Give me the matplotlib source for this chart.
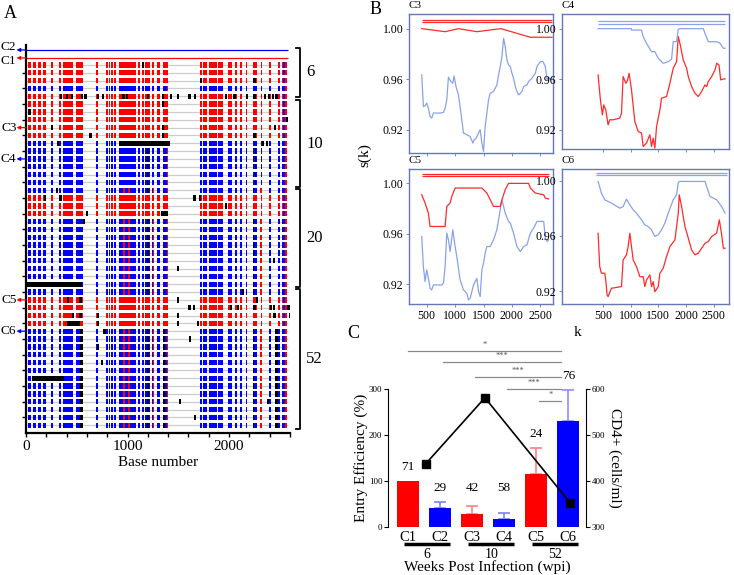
import numpy as np
import matplotlib.pyplot as plt

plt.rcParams['font.family'] = ['Liberation Serif', 'DejaVu Serif']

W, H = 734, 575
fig = plt.figure(figsize=(W / 100, H / 100), dpi=100)


def add_ax(l, t, r, b):
    # axes box given in pixel coords of the figure (top-left origin)
    return fig.add_axes([l / W, 1 - b / H, (r - l) / W, (b - t) / H])


RED = '#ff0000'
BLUE = '#0000ff'

###########################
### A. highlighter data ###
###########################

# r = red (C1-like) sequence, b = blue (C2-like) sequence
row_colors = "rrrbrrrrrr" + "bbbbbbb" + "rrr" + "bbbbbbbbbb" + "rrrr" + "b" * 13
group_labels = ['6', '10', '20', '52']
group_first = [-2.2, 4.5, 15.9, 28.6]
group_last = [4.1, 15.6, 28.4, 46.5]
ref_rows = {'C2': -1.92, 'C1': -0.9}
arrow_rows = {'C3': 8, 'C4': 12, 'C5': 30, 'C6': 34}
arrow_colors = {'C1': RED, 'C2': BLUE, 'C3': RED, 'C4': BLUE, 'C5': RED, 'C6': BLUE}
# the two reference labels sit a little apart so they do not collide
label_shift = {'C2': -0.35, 'C1': 0.35}

# polymorphic columns (base start, base end)
col_start = [23, 72, 121, 171, 246, 328, 368, 493, 690, 788, 815, 842, 870, 920, 1100, 1140,
             1175, 1240, 1288, 1345, 1714, 1747, 1806, 1895, 1993, 2059, 2108, 2167, 2233, 2312,
             2397, 2486, 2525]
col_end = [46, 95, 144, 194, 263, 348, 466, 565, 706, 805, 832, 860, 890, 1080, 1118, 1160,
           1225, 1262, 1320, 1400, 1734, 1780, 1879, 1944, 2027, 2076, 2125, 2180, 2279, 2325,
           2410, 2502, 2575]

# isolated black mutations (row, base)
black_dots = [(0, 1140), (2, 1714), (2, 2240),
              (4, 335), (4, 391), (4, 443), (4, 540), (4, 575), (4, 696), (4, 746), (4, 950),
              (4, 985), (4, 1189), (4, 1337), (4, 1419), (4, 1485), (4, 1600), (4, 1650),
              (4, 1961), (4, 2043), (4, 2165), (4, 2240), (4, 2345), (4, 2380), (4, 2420), (4, 2455),
              (5, 1337), (6, 23), (7, 2562), (8, 243), (8, 1337), (8, 2443), (9, 624), (9, 1337),
              (9, 2240), (10, 302), (10, 2325), (10, 2360), (16, 295), (17, 177), (17, 328),
              (17, 1649), (17, 1705), (18, 1961), (19, 588), (20, 560), (25, 2434), (26, 1485),
              (29, 2125), (30, 400), (30, 525), (30, 1485), (30, 2266), (31, 1600), (31, 1642),
              (31, 2010), (31, 2076), (31, 2240), (31, 2400), (31, 2430), (31, 2575), (32, 450),
              (32, 525), (32, 696), (32, 1485), (32, 2437), (32, 2590), (33, 696), (33, 1485),
              (33, 1681), (34, 762), (35, 1606), (36, 700), (38, 740), (43, 1508), (43, 2371),
              (45, 1650)]
# long black stretches (row, start, end)
black_bars = [(10, 920, 1420), (19, 1330, 1400), (28, 0, 550), (33, 400, 532), (40, 60, 370)]

# recurring cross-lineage marks
late_blue_red = [(960, 975), (1005, 1020), (1250, 1262), (1385, 1400), (2305, 2325), (2555, 2575)]
late_blue_black = [(1190, 1215), (2233, 2250)]
wk52_blue_black = [(535, 565), (2455, 2485), (1345, 1365)]
early_blue_red = [(1385, 1400), (2555, 2575)]
early_blue_black = [(1190, 1215), (2255, 2270)]
red_row_blue = [(2535, 2550)]

axA = add_ax(26, 45, 290, 433)
axA.set_xlim(0, 2600)
axA.set_ylim(47.0, -2.55)
hh = 0.68
n_rows = len(row_colors)
for i in range(n_rows):
    axA.hlines(i, 0, 2580, color='#cccccc', lw=0.9, zorder=1)
    c = RED if row_colors[i] == 'r' else BLUE
    axA.broken_barh([(s, e - s) for s, e in zip(col_start, col_end)], (i - hh / 2, hh),
                    facecolors=c, zorder=2)
    extra = []
    if row_colors[i] == 'b' and i >= 16:
        extra += [(s, e, RED) for s, e in late_blue_red]
        extra += [(s, e, 'black') for s, e in late_blue_black]
        if i >= 34:
            extra += [(s, e, 'black') for s, e in wk52_blue_black]
    elif row_colors[i] == 'b':
        extra += [(s, e, RED) for s, e in early_blue_red]
        if i >= 11:
            extra += [(s, e, 'black') for s, e in early_blue_black]
    else:
        extra += [(s, e, BLUE) for s, e in red_row_blue]
    for s, e, ec in extra:
        axA.broken_barh([(s, e - s)], (i - hh / 2, hh), facecolors=ec, zorder=3)

for r, b in black_dots:
    axA.broken_barh([(b, 22)], (r - hh / 2, hh), facecolors='black', zorder=4)
for r, s, e in black_bars:
    axA.broken_barh([(s, e - s)], (r - hh / 2, hh), facecolors='black', zorder=4)

for name, y in ref_rows.items():
    axA.hlines(y, 0, 2580, color=arrow_colors[name], lw=0.9)

labels_rows = dict(ref_rows)
labels_rows.update(arrow_rows)
for name, y in labels_rows.items():
    axA.annotate('', xy=(-0.036, y), xytext=(0.0, y), xycoords=('axes fraction', 'data'),
                 arrowprops=dict(arrowstyle='-|>', color=arrow_colors[name], lw=0.9,
                                 mutation_scale=5, shrinkA=0, shrinkB=0))
    axA.text(-0.036, y + label_shift.get(name, 0), name, transform=axA.get_yaxis_transform(),
             ha='right', va='center', fontsize=9.5)

for lab, y0, y1 in zip(group_labels, group_first, group_last):
    axA.plot([2655, 2700, 2700, 2655], [y0, y0, y1, y1], color='black', lw=1.3, clip_on=False)
    axA.text(2760, (y0 + y1) / 2, lab, ha='left', va='center', fontsize=12)

axA.spines['top'].set_visible(False)
axA.spines['right'].set_visible(False)
axA.spines['left'].set_linewidth(1.6)
axA.spines['bottom'].set_linewidth(1.6)
axA.set_xticks([0, 1000, 2000])
axA.set_xticks(np.arange(0, 2601, 200), minor=True)
axA.set_yticks(np.arange(1, n_rows, 2))
axA.set_yticklabels([])
axA.tick_params(axis='both', which='both', direction='out', length=3, width=1)
axA.tick_params(axis='x', labelsize=11, pad=2)
axA.set_xlabel('Base number', fontsize=11, labelpad=2)

#########################
### B. s(k) profiles ###
#########################

c3_blue_k = [412, 441, 471, 500, 529, 559, 588, 618, 735, 794, 824, 853, 882, 924, 959, 982, 1018,
             1059, 1118, 1147, 1206, 1265, 1312, 1335, 1371, 1412, 1441, 1471, 1500, 1529, 1559,
             1588, 1618, 1676, 1706, 1735, 1765, 1794, 1824, 1853, 1882, 1912, 1941, 1971, 2000,
             2029, 2059, 2088, 2118, 2147, 2176, 2206, 2265, 2294, 2324, 2353, 2412, 2441, 2500,
             2547, 2588, 2618, 2647, 2676, 2706]
c3_blue_s = [0.9634, 0.9384, 0.9389, 0.9411, 0.9371, 0.9305, 0.9292, 0.9332, 0.9332, 0.9337,
             0.9371, 0.9437, 0.9616, 0.9582, 0.9568, 0.9626, 0.9537, 0.9476, 0.9279, 0.9174,
             0.9161, 0.9147, 0.9095, 0.9121, 0.9134, 0.9174, 0.9200, 0.9095, 0.9029, 0.9226,
             0.9332, 0.9437, 0.9489, 0.9503, 0.9529, 0.9555, 0.9634, 0.9700, 0.9779, 0.9924,
             0.9858, 0.9753, 0.9713, 0.9700, 0.9647, 0.9608, 0.9542, 0.9503, 0.9476, 0.9489,
             0.9503, 0.9542, 0.9555, 0.9582, 0.9595, 0.9608, 0.9647, 0.9700, 0.9739, 0.9739,
             0.9700, 0.9595, 0.9616, 0.9600, 0.9608]
c3_red_k = [412, 824, 1059, 1382, 1806, 2324, 2706]
c3_red_s = [1.0, 0.9976, 1.0, 0.9976, 1.0, 0.9932, 0.9932]

c4_blue_k = [412, 1016, 1016, 1197, 1227, 1287, 1378, 1438, 1499, 1589, 1680, 1740, 1770, 1831,
             1861, 1891, 2314, 2344, 2404, 2555, 2616, 2676, 2706]
c4_blue_s = [1.0, 1.0, 0.9989, 0.9989, 0.9937, 0.9884, 0.9818, 0.9818, 0.9766, 0.9726, 0.9739,
             0.9758, 0.9897, 0.9897, 0.9995, 1.0, 1.0, 0.9963, 0.9897, 0.9897, 0.9884, 0.9845,
             0.9845]
c4_red_k = [412, 454, 490, 515, 551, 593, 623, 684, 804, 835, 865, 913, 943, 973, 1016, 1076,
            1136, 1197, 1227, 1287, 1348, 1378, 1408, 1438, 1469, 1529, 1559, 1650, 1710, 1770,
            1831, 1861, 1891, 1951, 2012, 2042, 2102, 2163, 2223, 2283, 2344, 2374, 2404, 2465,
            2525, 2555, 2597, 2628, 2664, 2706]
c4_red_s = [0.9634, 0.9437, 0.9318, 0.9397, 0.9358, 0.9239, 0.9279, 0.9279, 0.9292, 0.9332,
            0.9621, 0.9568, 0.9589, 0.9647, 0.9516, 0.9266, 0.9187, 0.9174, 0.9068, 0.9095,
            0.9161, 0.9068, 0.9134, 0.9055, 0.9226, 0.9358, 0.9450, 0.9463, 0.9568, 0.9687,
            0.9739, 0.9937, 0.9884, 0.9753, 0.9687, 0.9621, 0.9542, 0.9489, 0.9463, 0.9503,
            0.9555, 0.9542, 0.9582, 0.9621, 0.9674, 0.9726, 0.9713, 0.9595, 0.9600, 0.9603]

c5_red_k = [412, 471, 529, 559, 824, 853, 912, 941, 1000, 1471, 1500, 1559, 1618, 1676, 1794,
            1824, 1882, 1941, 2294, 2324, 2412, 2559, 2588, 2647]
c5_red_s = [0.9910, 0.9844, 0.9764, 0.9658, 0.9658, 0.9817, 0.9844, 0.9897, 0.9963, 0.9963,
            0.9950, 0.9923, 0.9870, 0.9817, 0.9817, 0.9870, 0.9950, 1.0, 1.0, 0.9963, 0.9923,
            0.9910, 0.9883, 0.9876]
c5_blue_k = [412, 441, 471, 500, 529, 559, 588, 618, 765, 794, 824, 853, 882, 912, 959, 1000,
             1029, 1088, 1147, 1206, 1235, 1265, 1324, 1382, 1412, 1441, 1471, 1500, 1529, 1559,
             1618, 1676, 1735, 1765, 1824, 1882, 1941, 1971, 2029, 2088, 2147, 2206, 2265, 2324,
             2382, 2441, 2559, 2588, 2618, 2647]
c5_blue_s = [0.9579, 0.9340, 0.9221, 0.9314, 0.9247, 0.9168, 0.9155, 0.9194, 0.9194, 0.9208,
             0.9340, 0.9605, 0.9552, 0.9459, 0.9632, 0.9499, 0.9420, 0.9234, 0.9155, 0.9128,
             0.9075, 0.9088, 0.9194, 0.9247, 0.9141, 0.9102, 0.9314, 0.9367, 0.9446, 0.9499,
             0.9499, 0.9552, 0.9632, 0.9711, 0.9870, 0.9764, 0.9698, 0.9685, 0.9605, 0.9499,
             0.9459, 0.9499, 0.9512, 0.9605, 0.9645, 0.9698, 0.9698, 0.9565, 0.9539, 0.9552]

c6_blue_k = [412, 472, 533, 653, 804, 865, 925, 986, 1046, 1106, 1197, 1257, 1318, 1378, 1438,
             1499, 1559, 1619, 1680, 1770, 1831, 1861, 1891, 2344, 2374, 2434, 2555, 2646, 2706]
c6_blue_s = [0.9995, 0.9910, 0.9862, 0.9838, 0.9801, 0.9813, 0.9867, 0.9826, 0.9789, 0.9765,
             0.9717, 0.9680, 0.9668, 0.9644, 0.9596, 0.9608, 0.9644, 0.9693, 0.9765, 0.9862,
             0.9898, 0.9988, 0.9995, 0.9995, 0.9959, 0.9886, 0.9862, 0.9813, 0.9765]
c6_red_k = [412, 442, 472, 533, 551, 575, 593, 653, 835, 865, 925, 955, 986, 1046, 1106, 1167,
            1227, 1257, 1287, 1348, 1378, 1408, 1438, 1499, 1529, 1589, 1650, 1710, 1801, 1861,
            1879, 1921, 1982, 2042, 2102, 2163, 2223, 2283, 2344, 2404, 2465, 2555, 2603, 2646,
            2676, 2706]
c6_red_s = [0.9620, 0.9378, 0.9330, 0.9330, 0.9281, 0.9172, 0.9160, 0.9221, 0.9233, 0.9426,
            0.9463, 0.9523, 0.9620, 0.9426, 0.9378, 0.9305, 0.9305, 0.9233, 0.9281, 0.9318,
            0.9233, 0.9269, 0.9196, 0.9233, 0.9330, 0.9366, 0.9451, 0.9523, 0.9572, 0.9765,
            0.9898, 0.9813, 0.9668, 0.9584, 0.9499, 0.9463, 0.9475, 0.9511, 0.9547, 0.9560,
            0.9596, 0.9620, 0.9717, 0.9608, 0.9511, 0.9511]

LRED = '#ff2a2a'
LBLUE = '#8aa2ea'
FRAME = '#6577b5'

panels = [
    # name, box, ref k/s, ref colour, other k/s, other colour, top lines, xlim, ylim, x labels
    ('C3', (409, 14, 553, 153), (c3_red_k, c3_red_s), LRED, (c3_blue_k, c3_blue_s), LBLUE,
     (1.0070, 1.0050, 412, 2706), (188, 2723), (0.9016, 1.0116), False),
    ('C4', (562, 14, 729, 149), (c4_blue_k, c4_blue_s), LBLUE, (c4_red_k, c4_red_s), LRED,
     (1.0060, 1.0040, 412, 2706), (-240, 2778), (0.9048, 1.0116), False),
    ('C5', (409, 169, 553, 304), (c5_red_k, c5_red_s), LRED, (c5_blue_k, c5_blue_s), LBLUE,
     (1.0076, 1.0056, 412, 2647), (188, 2723), (0.9043, 1.0114), True),
    ('C6', (562, 169, 729, 304), (c6_blue_k, c6_blue_s), LBLUE, (c6_red_k, c6_red_s), LRED,
     (1.0058, 1.0038, 382, 2736), (-240, 2778), (0.9107, 1.0085), True),
]

for name, box, ref, rc, oth, oc, top, xl, yl, showx in panels:
    ax = add_ax(*box)
    ax.plot(oth[0], oth[1], color=oc, lw=0.9)
    ax.plot(ref[0], ref[1], color=rc, lw=0.9)
    ax.hlines([top[0], top[1]], top[2], top[3], color=rc, lw=0.9)
    ax.set_xlim(*xl)
    ax.set_ylim(*yl)
    ax.set_yticks([0.92, 0.96, 1.00])
    ax.set_yticklabels(['0.92', '0.96', '1.00'])
    ax.set_xticks([500, 1000, 1500, 2000, 2500])
    if not showx:
        ax.set_xticklabels([])
    for sp in ax.spines.values():
        sp.set_color(FRAME)
        sp.set_linewidth(1.0)
    ax.tick_params(axis='both', length=2, width=0.6, color=FRAME, labelsize=8.5, pad=2)
    ax.text(0.0, 1.03, name, transform=ax.transAxes, ha='left', va='bottom', fontsize=8)

fig.text(365 / W, 1 - 155 / H, 's(k)', rotation=90, ha='center', va='center', fontsize=11)
fig.text(578 / W, 1 - 333 / H, 'k', ha='center', va='center', fontsize=11)

###############################
### C. entry efficiency/CD4 ###
###############################

clones = ['C1', 'C2', 'C3', 'C4', 'C5', 'C6']
entry_eff = [100, 42, 28.5, 17.5, 116, 230.5]
entry_err = [0, 12, 17.5, 12.5, 56, 67.5]
n_seq = ['71', '29', '42', '58', '24', '76']
bar_colors = [RED, BLUE, RED, BLUE, RED, BLUE]
err_colors = ['#ff8080', '#8080ff', '#ff8080', '#8080ff', '#ff8080', '#8c8cff']
wpi_labels = ['6', '10', '52']
cd4_pos = [0.55, 2.4, 5.05]
cd4_vals = [437, 581, 353]
sig_pairs = [(0, 5, '*'), (1, 5, '***'), (2, 5, '***'), (3, 5, '***'), (4, 5, '*')]
sig_levels = [383, 359, 326, 300, 274]

axC = add_ax(388, 389, 586, 527)
xpos = np.arange(len(clones))
axC.bar(xpos, entry_eff, width=0.69, color=bar_colors, zorder=2)
for xi, v, e, ec in zip(xpos, entry_eff, entry_err, err_colors):
    if e > 0:
        axC.errorbar(xi, v, yerr=[[0], [e]], fmt='none', ecolor=ec, elinewidth=1.2,
                     capsize=4, capthick=1.2, zorder=1)
for xi, v, e, t in zip(xpos, entry_eff, entry_err, n_seq):
    axC.text(xi, max(v + e + 30, 85), t, ha='center', va='center', fontsize=9.5)

axC.set_xlim(-0.62, 5.55)
axC.set_ylim(0, 300)
axC.set_yticks([0, 100, 200, 300])
axC.set_xticks(xpos)
axC.set_xticklabels(clones, fontsize=10.5)
axC.tick_params(axis='x', length=0, pad=3)
axC.tick_params(axis='y', direction='out', length=3, width=0.8, labelsize=6.5, pad=1)
axC.spines['top'].set_visible(False)
axC.spines['bottom'].set_visible(False)
axC.spines['right'].set_visible(False)
axC.spines['left'].set_linewidth(0.8)
axC.set_ylabel('Entry Efficiency (%)', fontsize=11, labelpad=1)

for (a, b, star), lev in zip(sig_pairs, sig_levels):
    x0 = a + 0.1 if a > 0 else a
    x1 = b - 0.22
    axC.plot([x0, x1], [lev, lev], color='#8a8a8a', lw=0.9, clip_on=False)
    axC.text((x0 + x1) / 2, lev + 4, star, ha='center', va='bottom', fontsize=6,
             color='#555555', clip_on=False)

for g, lab in enumerate(wpi_labels):
    axC.plot([2 * g - 0.12, 2 * g + 1.3], [-38, -38], color='black', lw=2.5,
             solid_capstyle='butt', clip_on=False)
    axC.text(2 * g + 0.6, -60, lab, ha='center', va='center', fontsize=10)
axC.text(2.47, -88, 'Weeks Post Infection (wpi)', ha='center', va='center', fontsize=11)

axC2 = axC.twinx()
axC2.plot(cd4_pos, cd4_vals, color='black', lw=1.2, marker='s', ms=5.5, zorder=5)
axC2.set_ylim(300, 600)
axC2.set_yticks([300, 400, 500, 600])
axC2.tick_params(axis='y', direction='out', length=3, width=0.8, labelsize=6.5, pad=1)
for sp in ['top', 'bottom', 'left']:
    axC2.spines[sp].set_visible(False)
axC2.spines['right'].set_linewidth(0.8)
axC2.set_ylabel('CD4+ (cells/ml)', rotation=270, fontsize=11, labelpad=12)

fig.text(4 / W, 1 - 13 / H, 'A', ha='left', va='center', fontsize=13)
fig.text(370 / W, 1 - 10 / H, 'B', ha='left', va='center', fontsize=13)
fig.text(347 / W, 1 - 334 / H, 'C', ha='left', va='center', fontsize=13)

fig.savefig('out.png', dpi=100)
